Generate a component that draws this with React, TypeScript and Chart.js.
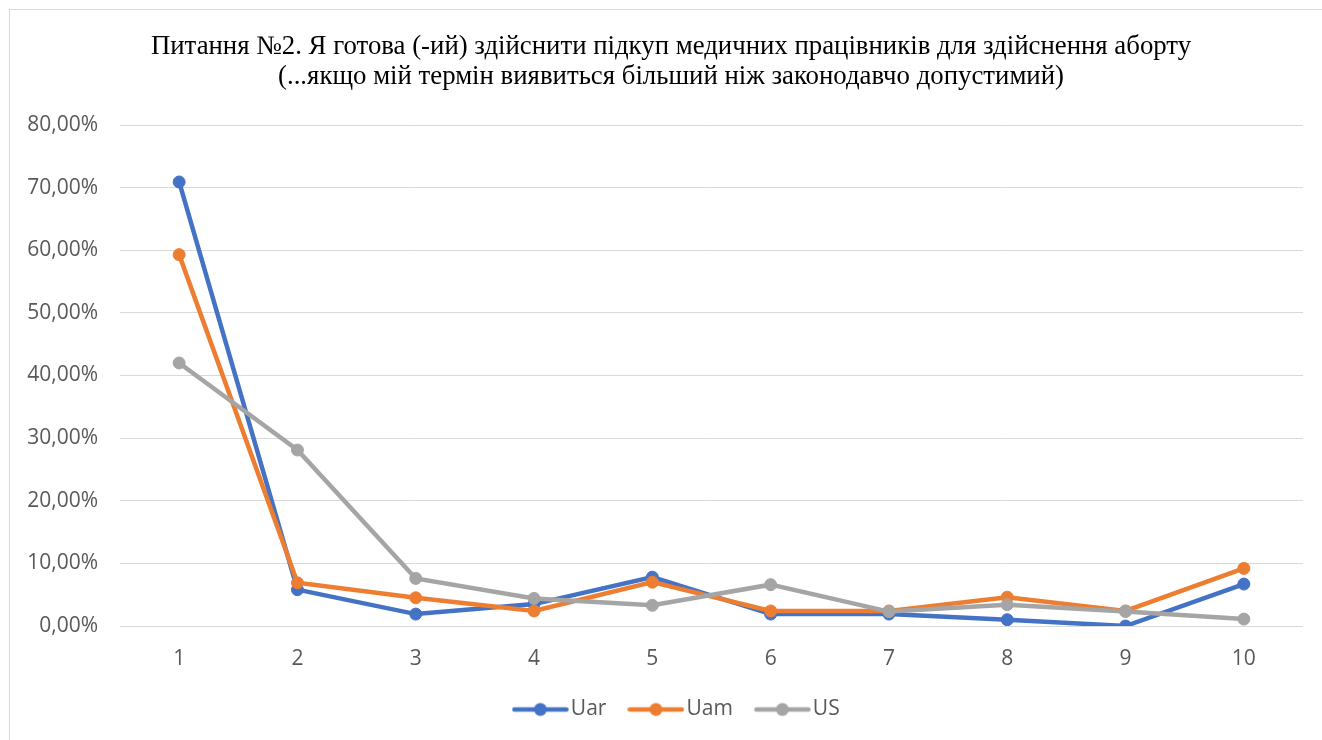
import React, { useEffect, useRef } from "react";
import { Chart, registerables } from "chart.js";

Chart.register(...registerables);

const categories = ["1", "2", "3", "4", "5", "6", "7", "8", "9", "10"];
const uarValues = [70.9, 5.8, 1.9, 3.5, 7.8, 1.9, 1.9, 1.0, 0.0, 6.7];
const uamValues = [59.3, 6.9, 4.5, 2.4, 7.0, 2.4, 2.4, 4.6, 2.4, 9.2];
const usValues = [42.0, 28.1, 7.6, 4.4, 3.3, 6.6, 2.3, 3.4, 2.3, 1.1];
const seriesNames = ["Uar", "Uam", "US"];
const seriesColors = ["#4472C4", "#ED7D31", "#A5A5A5"];
const titleLines = [
  "Питання №2. Я готова (-ий) здійснити підкуп медичних працівників для здійснення аборту",
  "(...якщо мій термін виявиться більший ніж законодавчо допустимий)",
];

function legendImage(color: string): HTMLCanvasElement {
  const c = document.createElement("canvas");
  c.width = 57;
  c.height = 16;
  const g = c.getContext("2d")!;
  g.strokeStyle = color;
  g.lineWidth = 4.5;
  g.lineCap = "round";
  g.beginPath();
  g.moveTo(2.5, 8);
  g.lineTo(54.5, 8);
  g.stroke();
  g.fillStyle = color;
  g.beginPath();
  g.arc(28.5, 8, 6.5, 0, Math.PI * 2);
  g.fill();
  return c;
}

// Shift title and legend centring to match the frame of the reference
const centerShift = {
  id: "centerShift",
  afterLayout(chart: any) {
    if (chart.titleBlock) chart.titleBlock.left += 39;
    if (chart.legend) chart.legend.left += 57;
  },
};

export default function App() {
  const ref = useRef<HTMLCanvasElement | null>(null);

  useEffect(() => {
    if (!ref.current) return;
    const allValues = [uarValues, uamValues, usValues];
    const images = seriesColors.map((c) => legendImage(c));
    const chart = new Chart(ref.current, {
      type: "line",
      data: {
        labels: categories,
        datasets: allValues.map((vals, i) => ({
          label: seriesNames[i],
          data: vals,
          borderColor: seriesColors[i],
          backgroundColor: seriesColors[i],
          pointBackgroundColor: seriesColors[i],
          pointBorderColor: seriesColors[i],
          borderWidth: 4.5,
          pointRadius: 6,
          pointBorderWidth: 1,
          tension: 0,
          order: 3 - i,
        })),
      },
      plugins: [centerShift],
      options: {
        responsive: false,
        animation: false,
        layout: { padding: { left: 0, right: 19, top: 0, bottom: 10 } },
        plugins: {
          tooltip: { enabled: false },
          title: {
            display: true,
            text: titleLines,
            color: "#000000",
            font: { family: "'Liberation Serif', 'Times New Roman', serif", size: 26.8, weight: "normal", lineHeight: 30 / 26.8 },
            padding: { top: 32, bottom: 33 },
          },
          legend: {
            display: true,
            position: "bottom",
            labels: {
              usePointStyle: true,
              pointStyleWidth: 40,
              boxHeight: 16,
              padding: 29.5,
              color: "#595959",
              font: { family: "'Open Sans', sans-serif", size: 21 },
              generateLabels: (ch: any) =>
                ch.data.datasets.map((ds: any, i: number) => ({
                  text: ds.label,
                  fillStyle: seriesColors[i],
                  strokeStyle: seriesColors[i],
                  lineWidth: 0,
                  pointStyle: images[i],
                  hidden: false,
                  datasetIndex: i,
                  fontColor: "#595959",
                })),
            },
          },
        },
        scales: {
          x: {
            offset: true,
            grid: { display: false, drawTicks: false },
            border: { display: false },
            ticks: {
              color: "#595959",
              padding: 20,
              font: { family: "'Open Sans', sans-serif", size: 21 },
            },
            afterFit: (s: any) => {
              s.height = 43.5;
            },
          },
          y: {
            min: 0,
            max: 80,
            grid: { color: "#d9d9d9", lineWidth: 1, drawTicks: false },
            border: { display: false },
            ticks: {
              stepSize: 10,
              color: "#595959",
              padding: 22,
              font: { family: "'Open Sans', sans-serif", size: 21 },
              callback: (v: any) => Number(v).toFixed(2).replace(".", ",") + "%",
            },
            afterFit: (s: any) => {
              s.width = 120;
            },
          },
        },
      },
    } as any);
    return () => chart.destroy();
  }, []);

  return (
    <div
      style={{
        position: "fixed",
        left: 0,
        top: 0,
        width: 1322,
        height: 740,
        background: "#ffffff",
        overflow: "hidden",
      }}
    >
      <div
        style={{
          position: "absolute",
          left: 9,
          top: 9,
          width: 1400,
          height: 800,
          border: "1px solid #d9d9d9",
        }}
      />
      <canvas ref={ref} width={1322} height={740} style={{ position: "absolute", left: 0, top: 0 }} />
    </div>
  );
}
